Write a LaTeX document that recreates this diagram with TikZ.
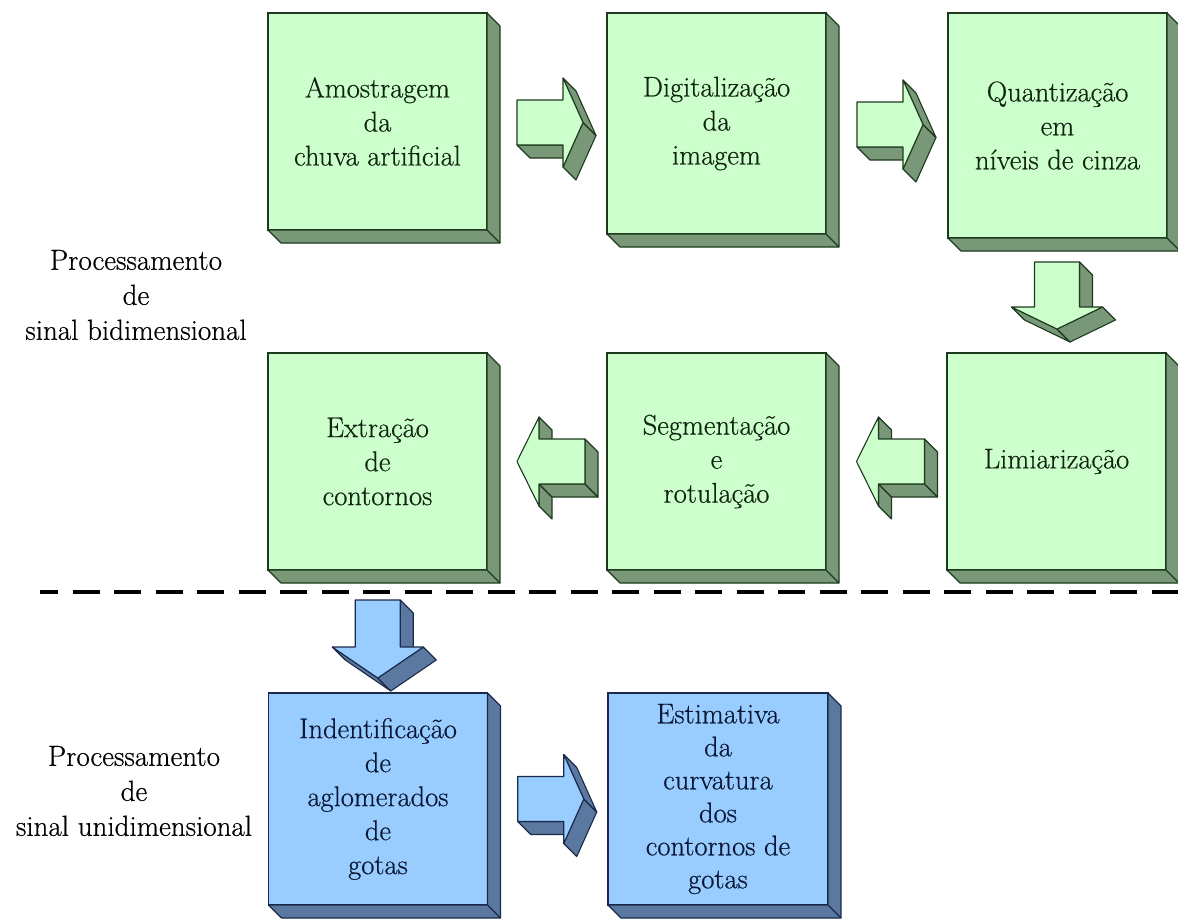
\documentclass[tikz,border=0pt]{standalone}
\usepackage{fontspec}
\newfontfamily\diagfont{Latin Modern Roman}[FakeBold=0.5]
\usetikzlibrary{calc}

\definecolor{gface}{HTML}{CCFFCC}
\definecolor{gside}{HTML}{789878}
\definecolor{gline}{HTML}{1E3A1E}
\definecolor{gtext}{HTML}{102410}
\definecolor{bface}{HTML}{99CCFF}
\definecolor{bside}{HTML}{5A78A0}
\definecolor{bline}{HTML}{1A2A4A}
\definecolor{btext}{HTML}{0A1836}

% depth faces (right side and bottom) of a stage box
\newcommand\slab[3]{%
  \draw[fill=#2, draw=#3, line width=1.1pt, line join=round]
    (#1.north east) -- ++(13,13) -- ($(#1.south east)+(13,13)$)
    -- ($(#1.south west)+(13,13)$) -- (#1.south west) -- (#1.south east) -- cycle;
  \draw[draw=#3, line width=1.1pt] (#1.south east) -- ++(13,13);
}

\tikzset{
  stage/.style={rectangle, inner sep=0pt, outer sep=0pt,
    minimum width=219pt, minimum height=217pt, line width=1.3pt,
    align=center, font=\diagfont\fontsize{28.5}{34}\selectfont},
  greenstage/.style={stage, fill=gface, draw=gline, text=gtext},
  bluestage/.style={stage, fill=bface, draw=bline, text=btext},
  greenset/.style={
    sideface/.style={fill=gside, draw=gline, line width=1.1pt, line join=round},
    frontface/.style={fill=gface, draw=gline, line width=1.1pt, line join=round}},
  blueset/.style={
    sideface/.style={fill=bside, draw=bline, line width=1.1pt, line join=round},
    frontface/.style={fill=bface, draw=bline, line width=1.1pt, line join=round}},
  sidelabel/.style={align=center, font=\diagfont\fontsize{29}{35}\selectfont, text=black},
  divider/.style={line width=4pt, dash pattern=on 27pt off 14.5pt, dash phase=9pt},
  % block arrow pointing right, origin at the middle of the gap
  pics/rightblock/.style={code={
    \draw[sideface] (16,22.5) -- (-30,22.5) -- (-17,35.5) -- (29,35.5) -- cycle;
    \draw[sideface] (36,0) -- (16,44.5) -- (29,57.5) -- (49,13) -- cycle;
    \draw[sideface] (16,-44.5) -- (36,0) -- (49,13) -- (29,-31.5) -- cycle;
    \draw[frontface] (-30,-22.5) -- (16,-22.5) -- (16,-44.5) -- (36,0)
      -- (16,44.5) -- (16,22.5) -- (-30,22.5) -- cycle;
  }},
  % block arrow pointing left
  pics/leftblock/.style={code={
    \draw[sideface] (-8,-44.5) -- (-8,-22.5) -- (5,-9.5) -- (5,-31.5) -- cycle;
    \draw[sideface] (-8,22.5) -- (-8,44.5) -- (5,57.5) -- (5,35.5) -- cycle;
    \draw[sideface] (38,22.5) -- (-8,22.5) -- (5,35.5) -- (51,35.5) -- cycle;
    \draw[sideface] (38,-22.5) -- (38,22.5) -- (51,35.5) -- (51,-9.5) -- cycle;
    \draw[frontface] (-30,0) -- (-8,-44.5) -- (-8,-22.5) -- (38,-22.5)
      -- (38,22.5) -- (-8,22.5) -- (-8,44.5) -- cycle;
  }},
  % block arrow pointing down: shaft top / head start / tip
  pics/downblock/.style args={#1/#2/#3}{code={
    \draw[sideface] (22.5,#1) -- (22.5,#2) -- (35.5,#2+13) -- (35.5,#1+13) -- cycle;
    \draw[sideface] (0,#3) -- (-45.5,#2) -- (-32.5,#2+13) -- (13,#3+13) -- cycle;
    \draw[sideface] (45.5,#2) -- (0,#3) -- (13,#3+13) -- (58.5,#2+13) -- cycle;
    \draw[frontface] (-22.5,#1) -- (22.5,#1) -- (22.5,#2) -- (45.5,#2)
      -- (0,#3) -- (-45.5,#2) -- (-22.5,#2) -- cycle;
  }}
}

\begin{document}
\begin{tikzpicture}[x=1pt, y=-1pt]
\useasboundingbox (0,0) rectangle (1178,919);

% side captions
\node[sidelabel] (bidim) at (136,295) {Processamento\\de\\sinal bidimensional};
\node[sidelabel] (unidim) at (134,791) {Processamento\\de\\sinal unidimensional};

% image processing stages
\node[greenstage] (amost) at (377.5,121.5) {Amostragem\\da\\chuva artificial};
\node[greenstage, minimum height=221pt] (digit) at (716.5,123.5) {Digitaliza\c{c}\~ao\\da\\imagem};
\node[greenstage, minimum height=225pt] (quant) at (1057.5,125.5) {Quantiza\c{c}\~ao\\em\\n\'iveis de cinza};
\node[greenstage] (limiar) at (1056.5,461.5) {Limiariza\c{c}\~ao};
\node[greenstage] (segm) at (716.5,461.5) {Segmenta\c{c}\~ao\\e\\rotula\c{c}\~ao};
\node[greenstage] (extr) at (377.5,461.5) {Extra\c{c}\~ao\\de\\contornos};

% contour processing stages
\node[bluestage, minimum height=212pt] (ident) at (378,799) {Indentifica\c{c}\~ao\\de\\aglomerados\\de\\gotas};
\node[bluestage, minimum width=220pt, minimum height=212pt,
      font=\diagfont\fontsize{28.5}{33}\selectfont] (estim) at (718,799)
      {Estimativa\\da\\curvatura\\dos\\contornos de\\gotas};

\slab{amost}{gside}{gline}
\slab{digit}{gside}{gline}
\slab{quant}{gside}{gline}
\slab{limiar}{gside}{gline}
\slab{segm}{gside}{gline}
\slab{extr}{gside}{gline}
\slab{ident}{bside}{bline}
\slab{estim}{bside}{bline}

% flow arrows between stages
\pic[greenset] at ($(amost.east)!0.5!(digit.west)$) {rightblock};
\pic[greenset] at ($(digit.east)!0.5!(quant.west)$) {rightblock};
\pic[greenset] at ($(quant.south)!0.5!(limiar.north)$) {downblock=-33.5/11.5/33.5};
\pic[greenset] at ($(limiar.west)!0.5!(segm.east)$) {leftblock};
\pic[greenset] at ($(segm.west)!0.5!(extr.east)$) {leftblock};
\pic[blueset] at ($(extr.south)!0.5!(ident.north)$) {downblock=-31.5/15.5/46.5};
\pic[blueset] at ($(ident.east)!0.5!(estim.west)$) {rightblock};

% boundary between the two processing stages
\coordinate (rule-l) at (40,592);
\coordinate (rule-r) at (1178,592);
\draw[divider] (rule-l) -- (rule-r);
\end{tikzpicture}
\end{document}
